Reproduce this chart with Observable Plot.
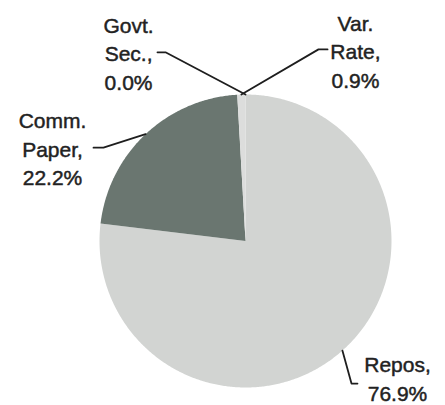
<!DOCTYPE html>
<html><head><meta charset="utf-8">
<script src="https://cdn.jsdelivr.net/npm/d3@7"></script>
<script src="https://cdn.jsdelivr.net/npm/@observablehq/plot@0.6"></script>
<style>body{margin:0;background:#fff}</style>
</head><body><div id="chart"></div>
<script>
// Data
const categories = ["Repos", "Comm. Paper", "Var. Rate", "Govt. Sec."];
const shares = [76.9, 22.2, 0.9, 0.0];
const labelNames = ["Repos,", "Comm.\nPaper,", "Var.\nRate,", "Govt.\nSec.,"];

// Styles
const colors = ["#d2d4d2", "#6a7670", "#dcdddc", "#ffffff"];

// Label layout (in units of pie radius, pie centered at 0,0)
const labelPos = [[1.041, -0.932], [-1.322, 0.637], [0.753, 1.301], [-0.801, 1.288]];
const elbowPos = [[0.726, -0.973], [-0.973, 0.637], [0.50, 1.308], [-0.548, 1.288]];
const endPos   = [[0.767, -0.973], [-1.041, 0.637], [0.562, 1.308], [-0.603, 1.288]];

const total = d3.sum(shares);
let acc = 0;
const slices = categories.map((name, i) => {
  const a0 = acc / total * 2 * Math.PI;
  acc += shares[i];
  const a1 = acc / total * 2 * Math.PI;
  const n = Math.max(2, Math.ceil((a1 - a0) / (Math.PI / 360)));
  const pts = [{x: 0, y: 0}];
  for (let k = 0; k <= n; k++) {
    const a = a0 + (a1 - a0) * k / n;
    pts.push({x: Math.sin(a), y: Math.cos(a)});
  }
  pts.push({x: 0, y: 0});
  const mid = (a0 + a1) / 2;
  return {name, i, pts, mid, color: colors[i]};
});

const leaders = slices.flatMap(s => [
  {name: s.name, x: Math.sin(s.mid), y: Math.cos(s.mid)},
  {name: s.name, x: elbowPos[s.i][0], y: elbowPos[s.i][1]},
  {name: s.name, x: endPos[s.i][0], y: endPos[s.i][1]}
]);

const labels = slices.map(s => ({
  x: labelPos[s.i][0], y: labelPos[s.i][1],
  text: labelNames[s.i] + "\n" + shares[s.i].toFixed(1) + "%"
}));

const chart = Plot.plot({
  width: 445,
  height: 405,
  marginLeft: 99,
  marginRight: 54,
  marginTop: 94,
  marginBottom: 18,
  x: {domain: [-1, 1], axis: null},
  y: {domain: [-1, 1], axis: null},
  style: {fontFamily: "Liberation Sans, Arial, sans-serif", background: "#fff"},
  marks: [
    ...slices.filter(s => s.pts.length > 3).map(s =>
      Plot.line(s.pts, {x: "x", y: "y", fill: s.color, stroke: "none"})),
    Plot.line(leaders, {x: "x", y: "y", z: "name", stroke: "#1e1e1e", strokeWidth: 1.8}),
    Plot.text(labels, {x: "x", y: "y", text: "text", fontSize: 21, lineHeight: 1.35,
      textAnchor: "middle", lineAnchor: "middle", fill: "#222",
      stroke: "#222", strokeWidth: 0.45,
      fontFamily: "Liberation Sans, Arial, sans-serif", style: "letter-spacing:1px"})
  ]
});
document.getElementById("chart").appendChild(chart);
</script>
</body></html>
